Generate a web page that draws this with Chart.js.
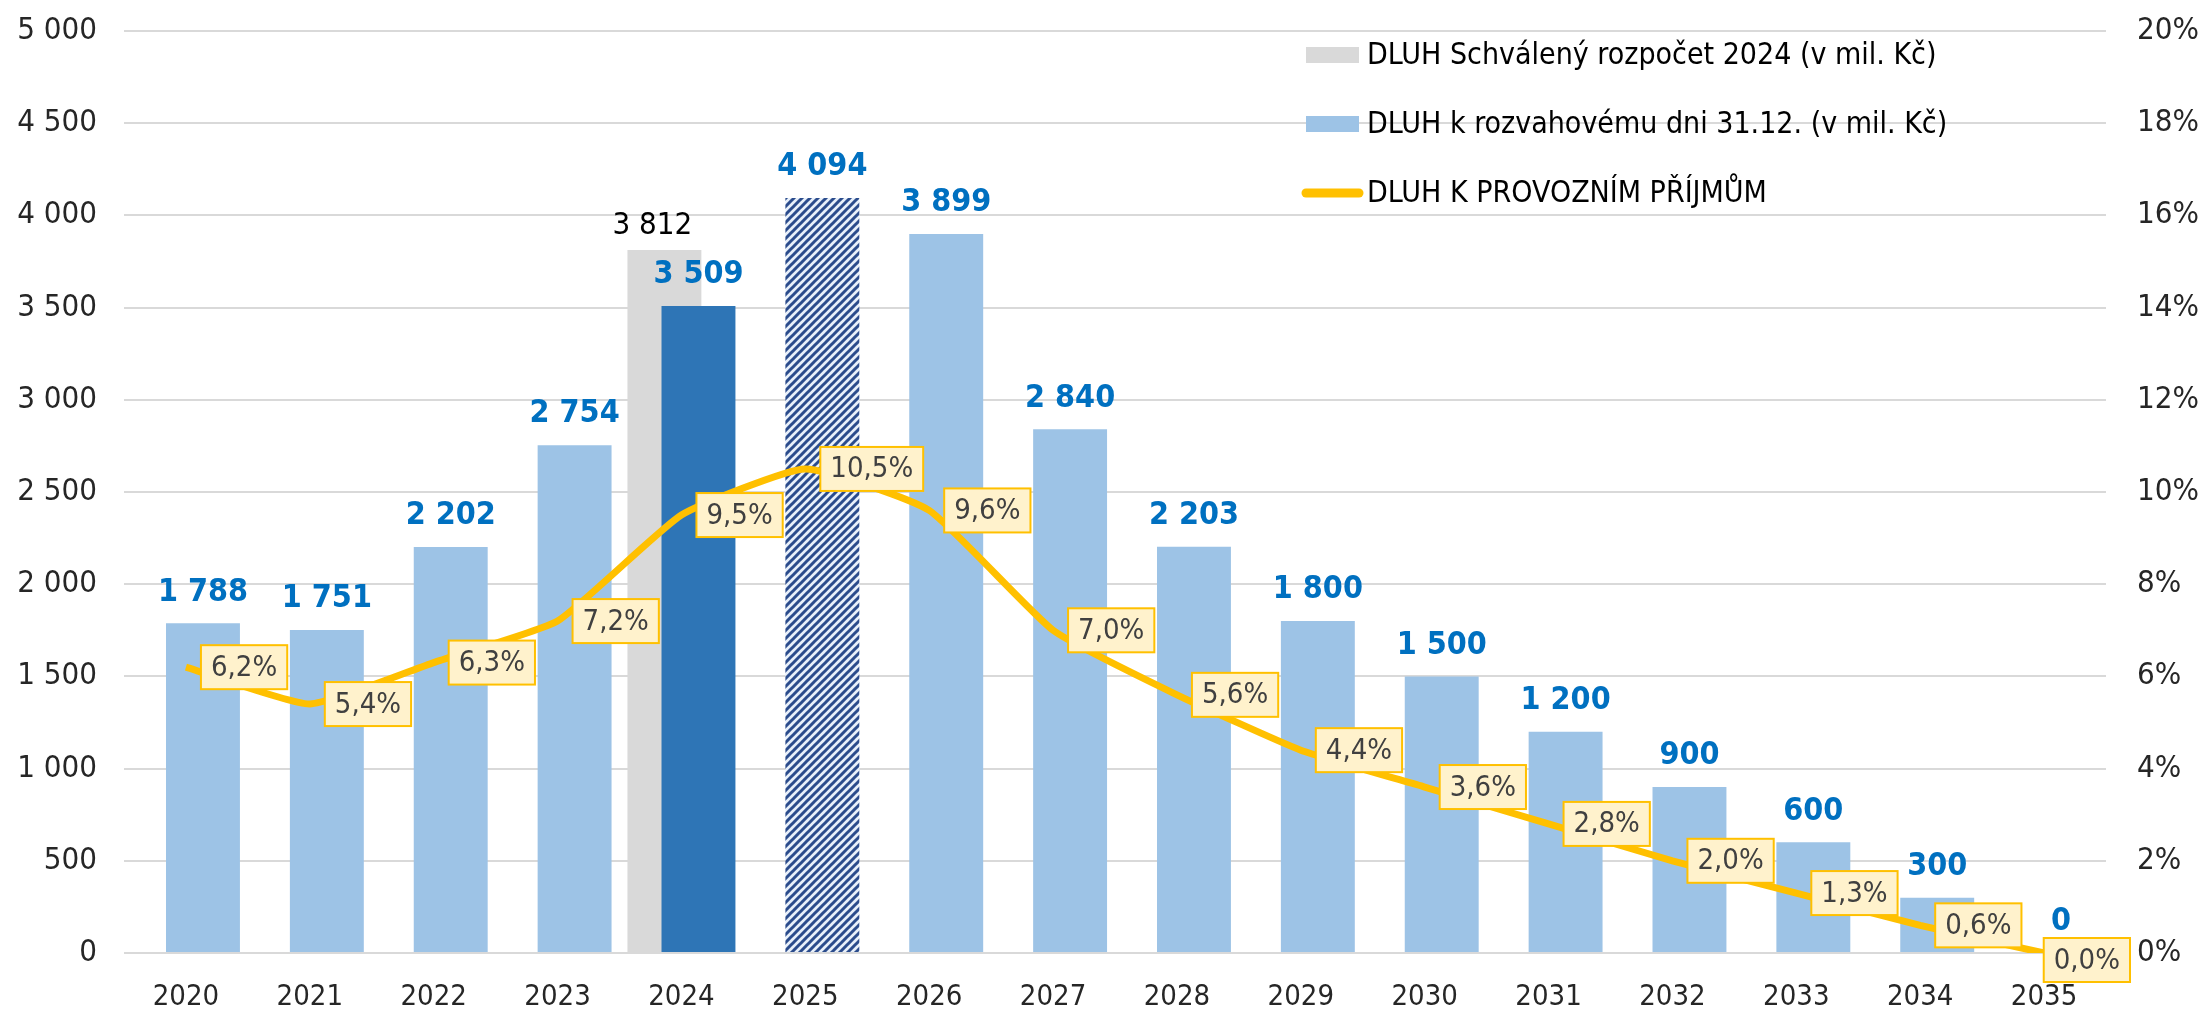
<!DOCTYPE html>
<html>
<head>
<meta charset="utf-8">
<script src="https://cdn.jsdelivr.net/npm/chart.js@4.4.1/dist/chart.umd.min.js"></script>
<style>
  html, body { margin: 0; padding: 0; background: #fff; }
</style>
</head>
<body>
<canvas id="debtChart" width="2205" height="1009"></canvas>
<script>
const years = ["2020", "2021", "2022", "2023", "2024", "2025", "2026", "2027", "2028", "2029", "2030", "2031", "2032", "2033", "2034", "2035"];
const budgetDebt = [null, null, null, null, 3812, null, null, null, null, null, null, null, null, null, null, null];
const actualDebt = [1788, 1751, 2202, 2754, 3509, 4094, 3899, 2840, 2203, 1800, 1500, 1200, 900, 600, 300, 0];
const debtRatio = [6.2, 5.4, 6.3, 7.2, 9.5, 10.5, 9.6, 7.0, 5.6, 4.4, 3.6, 2.8, 2.0, 1.3, 0.6, 0.0];

const seriesNames = [
  "DLUH Schválený rozpočet 2024 (v mil. Kč)",
  "DLUH k rozvahovému dni 31.12. (v mil. Kč)",
  "DLUH K PROVOZNÍM PŘÍJMŮM",
];

const FONT = '"DejaVu Sans Condensed", "DejaVu Sans", sans-serif';
const GREY = "#D9D9D9";
const LIGHT_BLUE = "#9DC3E6";
const DARK_BLUE = "#2E75B6";
const NAVY = "#2B4C8C";
const YELLOW = "#FFC000";

const fmtNum = (v) => String(v).replace(/\B(?=(\d{3})+(?!\d))/g, " ");
const fmtPct = (v) => v.toFixed(1).replace(".", ",") + "%";

// hatched fill for the 2025 bar
function makeHatch() {
  const c = document.createElement("canvas");
  c.width = 8;
  c.height = 8;
  const g = c.getContext("2d");
  g.fillStyle = "#E8F0FA";
  g.fillRect(0, 0, 8, 8);
  g.strokeStyle = NAVY;
  g.lineWidth = 3;
  g.beginPath();
  g.moveTo(-2, 10); g.lineTo(10, -2);
  g.moveTo(-6, 6); g.lineTo(6, -6);
  g.moveTo(2, 14); g.lineTo(14, 2);
  g.stroke();
  return g.createPattern(c, "repeat");
}

const ctx = document.getElementById("debtChart").getContext("2d");
const hatch = makeHatch();
const blueColors = years.map((y) => (y === "2024" ? DARK_BLUE : y === "2025" ? hatch : LIGHT_BLUE));

// blue bars have to sit on top of the grey one
const drawOrderFix = {
  id: "drawOrderFix",
  beforeDatasetDraw(chart, args) {
    if (args.index === 1) return false;
  },
  afterDatasetDraw(chart, args) {
    if (args.index === 0) chart.getDatasetMeta(1).controller.draw();
  },
};

const valueLabels = {
  id: "valueLabels",
  afterDatasetsDraw(chart) {
    const c = chart.ctx;
    const area = chart.chartArea;
    c.save();
    c.textAlign = "center";
    c.textBaseline = "middle";

    chart.getDatasetMeta(0).data.forEach((el, i) => {
      if (budgetDebt[i] === null) return;
      c.font = "31px " + FONT;
      c.fillStyle = "#000";
      c.fillText(fmtNum(budgetDebt[i]), el.x - 12, el.y - 24);
    });

    chart.getDatasetMeta(1).data.forEach((el, i) => {
      c.font = "bold 32px " + FONT;
      c.fillStyle = "#0070C0";
      c.fillText(fmtNum(actualDebt[i]), el.x, el.y - 31);
    });

    chart.getDatasetMeta(2).data.forEach((el, i) => {
      c.font = "29px " + FONT;
      const txt = fmtPct(debtRatio[i]);
      const w = c.measureText(txt).width + 20;
      const h = 44;
      let left = el.x + 15;
      let cy = el.y;
      if (left + w > area.right + 24) {
        left = area.right + 24 - w;
        cy += 7;
      }
      const top = cy - h / 2;
      c.fillStyle = "#FFF2CC";
      c.fillRect(left, top, w, h);
      c.strokeStyle = YELLOW;
      c.lineWidth = 2;
      c.strokeRect(left, top, w, h);
      c.fillStyle = "#404040";
      c.fillText(txt, left + w / 2, cy + 1);
    });
    c.restore();
  },
};

const customLegend = {
  id: "customLegend",
  afterDraw(chart) {
    const c = chart.ctx;
    const rows = [55, 124, 193];
    c.save();
    c.font = "30px " + FONT;
    c.textBaseline = "middle";
    c.textAlign = "left";
    c.fillStyle = GREY;
    c.fillRect(1306, rows[0] - 8, 53, 16);
    c.fillStyle = LIGHT_BLUE;
    c.fillRect(1306, rows[1] - 8, 53, 16);
    c.strokeStyle = YELLOW;
    c.lineWidth = 9;
    c.lineCap = "round";
    c.beginPath();
    c.moveTo(1306, rows[2]);
    c.lineTo(1359, rows[2]);
    c.stroke();
    c.fillStyle = "#000";
    seriesNames.forEach((name, i) => c.fillText(name, 1367, rows[i] + 1));
    c.restore();
  },
};

const noVerticalPadding = (scale) => {
  scale.paddingTop = 0;
  scale.paddingBottom = 0;
};

new Chart(ctx, {
  data: {
    labels: years,
    datasets: [
      {
        type: "bar",
        label: seriesNames[0],
        data: budgetDebt,
        backgroundColor: GREY,
        yAxisID: "y",
        order: 1,
        categoryPercentage: 0.55,
        barPercentage: 2.17,
      },
      {
        type: "bar",
        label: seriesNames[1],
        data: actualDebt,
        backgroundColor: blueColors,
        yAxisID: "y",
        order: 1,
        categoryPercentage: 0.55,
        barPercentage: 2.17,
      },
      {
        type: "line",
        label: seriesNames[2],
        data: debtRatio,
        borderColor: YELLOW,
        backgroundColor: YELLOW,
        borderWidth: 7,
        pointRadius: 0,
        tension: 0.15,
        yAxisID: "y2",
        order: 0,
      },
    ],
  },
  options: {
    responsive: false,
    animation: false,
    devicePixelRatio: 1,
    layout: { padding: { top: 31, left: 0, right: 0, bottom: 0 } },
    plugins: {
      legend: { display: false },
      tooltip: { enabled: false },
    },
    scales: {
      x: {
        offset: true,
        grid: { display: false },
        border: { display: false },
        ticks: {
          padding: 19,
          color: "#262626",
          font: { family: FONT, size: 29 },
          maxRotation: 0,
          autoSkip: false,
        },
        afterFit: (scale) => { scale.height = 56; },
      },
      y: {
        position: "left",
        min: 0,
        max: 5000,
        grid: { color: GREY, lineWidth: 2, drawTicks: false },
        border: { display: false },
        ticks: {
          stepSize: 500,
          padding: 27,
          color: "#262626",
          font: { family: FONT, size: 31 },
          callback: (v) => fmtNum(v),
        },
        afterFit: (scale) => {
          scale.width = 124;
          noVerticalPadding(scale);
        },
      },
      y2: {
        position: "right",
        min: 0,
        max: 20,
        grid: { drawOnChartArea: false, drawTicks: false },
        border: { display: false },
        ticks: {
          stepSize: 2,
          padding: 31,
          color: "#262626",
          font: { family: FONT, size: 31 },
          callback: (v) => v + "%",
        },
        afterFit: (scale) => {
          scale.width = 99;
          noVerticalPadding(scale);
        },
      },
    },
  },
  plugins: [drawOrderFix, valueLabels, customLegend],
});
</script>
</body>
</html>
